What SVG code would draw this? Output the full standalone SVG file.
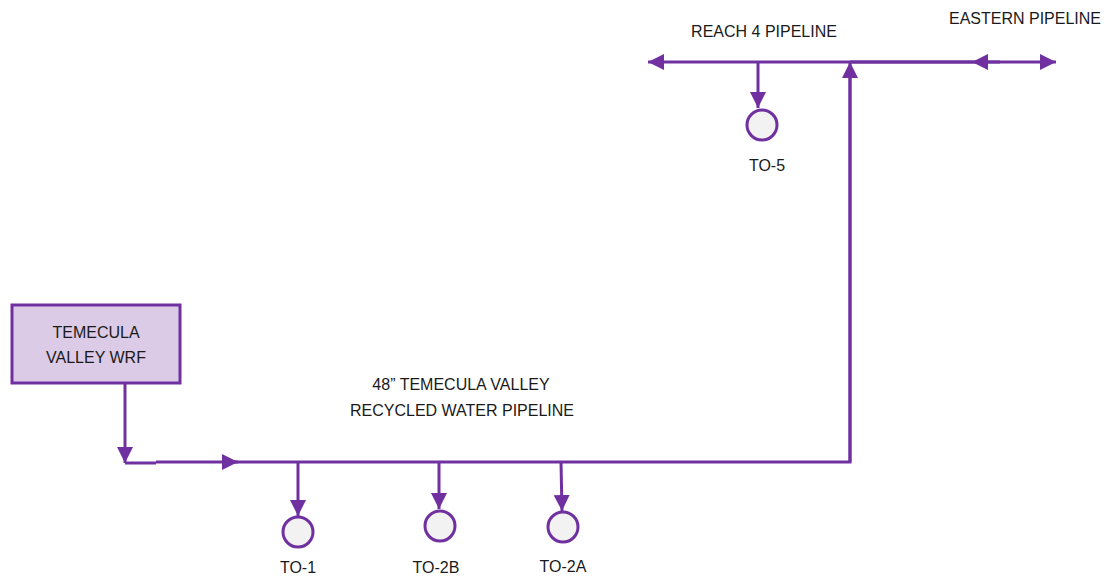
<svg xmlns="http://www.w3.org/2000/svg" width="1105" height="576" viewBox="0 0 1105 576">
<style>
.ln{stroke:#7030a0;stroke-width:3;fill:none}
.t{font-family:"Liberation Sans",Arial,sans-serif;font-size:16px;fill:#1a1a1a;text-anchor:middle}
.c{fill:#f2f2f2;stroke:#7030a0;stroke-width:3}
</style>
<defs>
<marker id="ah" markerUnits="userSpaceOnUse" markerWidth="18" markerHeight="18" refX="16" refY="8" orient="auto">
<path d="M0,0 L16,8 L0,16 Z" fill="#7030a0"/>
</marker>
</defs>
<rect width="1105" height="576" fill="#ffffff"/>
<g id="wrf">
<rect x="12" y="305" width="168" height="78" fill="#dccbe6" stroke="#7030a0" stroke-width="3"/>
<text class="t" x="96" y="338">TEMECULA</text>
<text class="t" x="96" y="363">VALLEY WRF</text>
</g>
<g id="connectors">
<line class="ln" x1="125" y1="383" x2="125" y2="463" marker-end="url(#ah)"/>
<line class="ln" x1="125" y1="463" x2="156" y2="463"/>
<line class="ln" x1="156" y1="462" x2="238" y2="462" marker-end="url(#ah)"/>
<polyline class="ln" points="230,462 850,462 850,78"/>
<line class="ln" x1="850" y1="462" x2="850" y2="62" marker-end="url(#ah)"/>
<line class="ln" x1="298" y1="462" x2="298" y2="516" marker-end="url(#ah)"/>
<line class="ln" x1="439" y1="462" x2="439" y2="509" marker-end="url(#ah)"/>
<line class="ln" x1="561" y1="462" x2="562" y2="511" marker-end="url(#ah)"/>
<line class="ln" x1="972" y1="62" x2="648" y2="62" marker-end="url(#ah)"/>
<line class="ln" x1="850" y1="62" x2="1056" y2="62" marker-end="url(#ah)"/>
<line class="ln" x1="1000" y1="62" x2="972" y2="62" marker-end="url(#ah)"/>
<line class="ln" x1="758" y1="62" x2="758" y2="108" marker-end="url(#ah)"/>
</g>
<g id="to1"><circle class="c" cx="298" cy="532" r="15"/><text class="t" x="298" y="573">TO-1</text></g>
<g id="to2b"><circle class="c" cx="440" cy="526" r="15"/><text class="t" x="436" y="573">TO-2B</text></g>
<g id="to2a"><circle class="c" cx="563" cy="527" r="15"/><text class="t" x="563" y="572">TO-2A</text></g>
<g id="to5"><circle class="c" cx="762" cy="125" r="15"/><text class="t" x="767" y="171">TO-5</text></g>
<g id="labels">
<text class="t" x="764" y="37">REACH 4 PIPELINE</text>
<text class="t" x="1025" y="24">EASTERN PIPELINE</text>
<text class="t" x="461" y="390">48” TEMECULA VALLEY</text>
<text class="t" x="462" y="416">RECYCLED WATER PIPELINE</text>
</g>
</svg>
